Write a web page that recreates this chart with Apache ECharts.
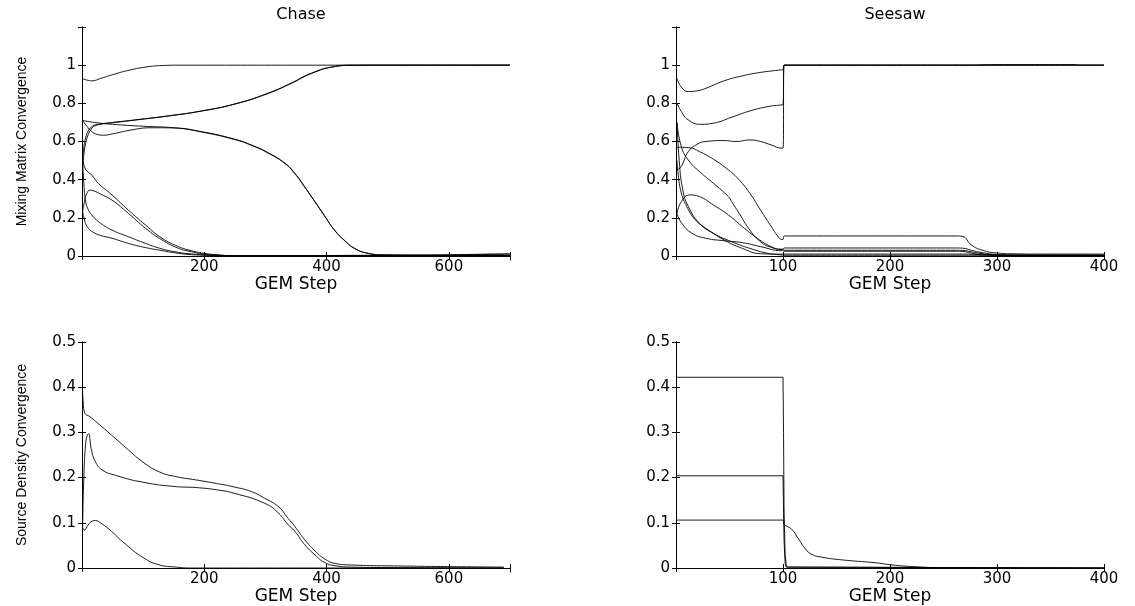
<!DOCTYPE html>
<html>
<head>
<meta charset="utf-8">
<script src="https://cdn.jsdelivr.net/npm/echarts@6/dist/echarts.min.js"></script>
<style>
html,body{margin:0;padding:0;background:#fff;}
#c{width:1135px;height:606px;}
</style>
</head>
<body>
<div id="c"></div>
<script>
// ---------- titles / labels ----------
const panelTitles = ['Chase', 'Seesaw'];
const xAxisName = 'GEM Step';
const yNameTop = 'Mixing Matrix Convergence';
const yNameBottom = 'Source Density Convergence';

// ---------- Chase : mixing matrix convergence ----------
const chaseM1x = [1, 8, 16, 30, 50, 75, 104, 131, 160, 200, 400, 700];
const chaseM1y = [0.93, 0.922, 0.918, 0.93, 0.95, 0.972, 0.99, 0.998, 1, 1, 1, 1];
const chaseRiseX = [1, 3, 6, 10, 15, 20, 30, 50, 86, 140, 195, 250, 304, 342, 375, 413, 441, 500, 700];
const chaseM2y = [0.50, 0.57, 0.62, 0.655, 0.675, 0.685, 0.692, 0.70, 0.713, 0.734, 0.76, 0.797, 0.853, 0.906, 0.958, 0.993, 1.0, 1.0, 1.0];
const chaseM3y = [0.46, 0.53, 0.59, 0.635, 0.665, 0.68, 0.69, 0.698, 0.712, 0.733, 0.759, 0.796, 0.851, 0.904, 0.956, 0.992, 0.999, 1.0, 1.0];
const chaseM4x = [1, 10, 20, 50, 100, 150, 195, 250, 277, 304, 332, 348, 364, 381, 397, 413, 430, 446, 468, 495, 550, 600, 650, 700];
const chaseM4y = [0.71, 0.705, 0.70, 0.69, 0.68, 0.672, 0.652, 0.612, 0.582, 0.542, 0.486, 0.434, 0.364, 0.285, 0.21, 0.136, 0.08, 0.04, 0.014, 0.005, 0.004, 0.005, 0.008, 0.01];
const chaseM5x = [1, 8, 15, 25, 35, 50, 80, 113, 150, 195, 250, 277, 304, 332, 348, 364, 381, 397, 413, 430, 446, 468, 495, 550, 600, 650, 700];
const chaseM5y = [0.71, 0.68, 0.655, 0.637, 0.633, 0.64, 0.66, 0.672, 0.671, 0.650, 0.610, 0.580, 0.540, 0.484, 0.432, 0.362, 0.283, 0.208, 0.135, 0.079, 0.039, 0.014, 0.006, 0.005, 0.006, 0.009, 0.011];
const chaseLax = [1, 5, 10, 16, 27, 49, 76, 104, 131, 158, 175, 200, 225, 250, 300, 500, 700];
const chaseLay = [0.51, 0.46, 0.44, 0.424, 0.38, 0.32, 0.24, 0.162, 0.093, 0.049, 0.031, 0.014, 0.005, 0.002, 0.002, 0.003, 0.003];
const chaseLbx = [1, 5, 9, 13, 20, 30, 49, 76, 104, 131, 158, 175, 200, 225, 250, 300, 500, 700];
const chaseLby = [0.232, 0.30, 0.335, 0.345, 0.34, 0.325, 0.293, 0.223, 0.145, 0.084, 0.04, 0.025, 0.01, 0.004, 0.002, 0.002, 0.003, 0.003];
const chaseLcx = [1, 3, 6, 10, 16, 27, 49, 76, 104, 131, 158, 175, 200, 225, 250, 500, 700];
const chaseLcy = [0.50, 0.38, 0.284, 0.245, 0.215, 0.18, 0.136, 0.101, 0.066, 0.037, 0.019, 0.012, 0.006, 0.003, 0.002, 0.003, 0.003];
const chaseLdx = [1, 4, 7, 12, 17, 30, 49, 76, 104, 131, 158, 175, 200, 225, 250, 500, 700];
const chaseLdy = [0.232, 0.19, 0.162, 0.14, 0.127, 0.108, 0.093, 0.066, 0.044, 0.028, 0.014, 0.008, 0.004, 0.002, 0.001, 0.002, 0.002];

// ---------- Chase : source density convergence ----------
const chaseS1x = [1, 2, 3.5, 6, 11.6, 33, 55, 77, 99, 126, 154, 186, 220, 250, 277, 299, 321, 337, 348, 364, 381, 397, 414, 441, 523, 605, 690];
const chaseS1y = [0.39, 0.365, 0.348, 0.34, 0.336, 0.312, 0.286, 0.26, 0.235, 0.213, 0.202, 0.195, 0.187, 0.179, 0.169, 0.154, 0.136, 0.11, 0.092, 0.063, 0.038, 0.02, 0.01, 0.0066, 0.0044, 0.003, 0.002];
const chaseS2x = [1, 3, 6, 9, 11, 13, 15, 22, 33, 55, 99, 154, 186, 220, 250, 299, 321, 337, 348, 364, 381, 397, 414, 441, 500, 690];
const chaseS2y = [0.09, 0.2, 0.275, 0.295, 0.297, 0.285, 0.264, 0.235, 0.217, 0.205, 0.19, 0.18, 0.178, 0.173, 0.165, 0.143, 0.122, 0.096, 0.0815, 0.052, 0.029, 0.012, 0.005, 0.002, 0.001, 0.0];
const chaseS3x = [1, 4, 10, 17, 22, 30, 44, 71, 99, 126, 154, 180, 300, 690];
const chaseS3y = [0.0895, 0.084, 0.095, 0.104, 0.105, 0.1, 0.086, 0.053, 0.024, 0.007, 0.002, 0.0, 0.0, 0.0];

// ---------- Seesaw : mixing matrix convergence ----------
const seeW1x = [1, 5, 11.5, 20, 28, 45, 62, 79, 99, 100, 101, 110, 200, 270, 400];
const seeW1y = [0.93, 0.885, 0.862, 0.866, 0.879, 0.918, 0.944, 0.962, 0.976, 0.977, 1.0, 1.0, 1.0, 1.0, 1.0];
const seeW2x = [1, 5, 11.5, 23, 35, 52, 69, 86, 99, 100, 101, 110, 200, 270, 400];
const seeW2y = [0.80, 0.757, 0.713, 0.69, 0.696, 0.727, 0.76, 0.783, 0.792, 0.793, 1.0, 1.0, 1.0, 1.0, 1.0];
const seeW3x = [1, 5, 11.5, 20, 28, 45, 56, 69, 79, 89, 99, 100, 101, 110, 200, 270, 300, 370, 380, 400];
const seeW3y = [0.45, 0.47, 0.547, 0.586, 0.6, 0.605, 0.6, 0.608, 0.6, 0.582, 0.565, 0.565, 1.0, 1.0, 1.0, 1.0, 1.003, 1.003, 1.0, 1.0];
const seeW4x = [1, 11.5, 22, 35, 49, 59, 69, 79, 88, 96, 99, 100, 101, 110, 200, 262, 268, 276, 286, 300, 320, 340, 400];
const seeW4y = [0.57, 0.568, 0.547, 0.507, 0.451, 0.399, 0.329, 0.241, 0.163, 0.098, 0.087, 0.087, 0.105, 0.105, 0.105, 0.105, 0.102, 0.058, 0.031, 0.016, 0.011, 0.01, 0.01];
const seeW5x = [1, 5, 11.5, 22, 35, 49, 52, 59, 69, 79, 89, 99, 100, 101, 110, 200, 262, 268, 276, 286, 300, 320, 400];
const seeW5y = [0.696, 0.573, 0.503, 0.442, 0.381, 0.311, 0.285, 0.224, 0.136, 0.075, 0.045, 0.035, 0.035, 0.042, 0.042, 0.042, 0.042, 0.041, 0.03, 0.018, 0.008, 0.004, 0.003];
const seeW6x = [1, 5, 13, 22, 35, 49, 62, 76, 89, 99, 100, 101, 110, 200, 262, 268, 276, 286, 300, 320, 400];
const seeW6y = [0.224, 0.285, 0.32, 0.311, 0.267, 0.215, 0.154, 0.093, 0.049, 0.035, 0.035, 0.03, 0.03, 0.03, 0.03, 0.029, 0.022, 0.012, 0.005, 0.002, 0.001];
const seeW7x = [1, 2, 5, 10, 18, 28, 45, 62, 79, 96, 100, 200, 268, 290, 400];
const seeW7y = [0.5, 0.43, 0.33, 0.26, 0.19, 0.145, 0.084, 0.04, 0.012, 0.01, 0.01, 0.01, 0.01, 0.006, 0.005];
const seeW8x = [1, 5, 15, 28, 45, 62, 79, 99, 100, 101, 110, 200, 262, 268, 276, 290, 310, 400];
const seeW8y = [0.224, 0.175, 0.119, 0.093, 0.08, 0.07, 0.049, 0.028, 0.028, 0.025, 0.025, 0.025, 0.025, 0.024, 0.015, 0.006, 0.002, 0.001];
const seeW9x = [1, 3, 6.4, 11.5, 22, 35, 52, 69, 86, 99, 100, 200, 400];
const seeW9y = [0.70, 0.5, 0.346, 0.26, 0.171, 0.119, 0.075, 0.04, 0.014, 0.005, 0.004, 0.004, 0.004];

// ---------- Seesaw : source density convergence ----------
const seeD1x = [1, 100, 100.5, 101, 102, 103, 104, 400];
const seeD1y = [0.422, 0.422, 0.3, 0.12, 0.03, 0.008, 0.002, 0];
const seeD2x = [1, 100, 101, 102, 103, 400];
const seeD2y = [0.204, 0.204, 0.06, 0.01, 0.002, 0];
const seeD3x = [1, 50, 100, 101, 108, 114.6, 121, 127, 136, 155, 186, 205, 230, 250, 300, 400];
const seeD3y = [0.106, 0.106, 0.106, 0.097, 0.086, 0.064, 0.042, 0.03, 0.024, 0.018, 0.0116, 0.006, 0.002, 0.0005, 0, 0];

// ---------- axis ranges / ticks ----------
const chaseX = {min: 0, max: 700, step: 200};
const seeX = {min: 0, max: 400, step: 100};
const mixY = {min: 0, max: 1.2, step: 0.2, labelMax: 1};
const srcY = {min: 0, max: 0.5, step: 0.1, labelMax: 0.5};

// ---------- build ----------
const FONT = "'DejaVu Sans', 'Liberation Sans', Arial, sans-serif";
const YFONT = "'Liberation Sans', Arial, sans-serif";
const grids = [
  {left: 82, top: 27, width: 428, height: 229},
  {left: 676, top: 27, width: 428, height: 229},
  {left: 82, top: 342, width: 428, height: 229},
  {left: 676, top: 342, width: 428, height: 229}
];
const panelX = [chaseX, seeX, chaseX, seeX];
const panelY = [mixY, mixY, srcY, srcY];

const xAxes = [], yAxes = [];
const lineAx = {show: true, lineStyle: {color: '#000', width: 1}};
const tickIn = {show: true, inside: true, length: 4, lineStyle: {color: '#000', width: 1}};
panelX.forEach((ax, i) => {
  xAxes.push({
    type: 'value', gridIndex: i, min: ax.min, max: ax.max, interval: ax.step, position: 'bottom',
    axisLine: lineAx, axisTick: tickIn, splitLine: {show: false},
    axisLabel: {color: '#000', fontFamily: FONT, fontSize: 15, margin: 4,
      formatter: v => (v > 0 && Math.abs(v % ax.step) < 1e-9) ? String(v) : ''},
    name: xAxisName, nameLocation: 'middle', nameGap: 20,
    nameTextStyle: {color: '#000', fontFamily: FONT, fontSize: 17, verticalAlign: 'top'}
  });
  xAxes.push({
    type: 'value', gridIndex: i, min: ax.min, max: ax.max, interval: ax.step, position: 'top',
    axisLine: lineAx, axisTick: tickIn, axisLabel: {show: false}, splitLine: {show: false}
  });
});
panelY.forEach((ay, i) => {
  yAxes.push({
    type: 'value', gridIndex: i, min: ay.min, max: ay.max, interval: ay.step, position: 'left',
    axisLine: lineAx, axisTick: tickIn, splitLine: {show: false},
    axisLabel: {color: '#000', fontFamily: FONT, fontSize: 15, margin: 6,
      formatter: v => {
        if (v > ay.labelMax + 1e-9) return '';
        if (Math.abs(v) < 1e-9) return '0';
        if (Math.abs(v - Math.round(v)) < 1e-9) return String(Math.round(v));
        return v.toFixed(1);
      }},
    name: (i === 0 ? yNameTop : (i === 2 ? yNameBottom : '')),
    nameLocation: 'middle', nameGap: 53,
    nameTextStyle: {color: '#000', fontFamily: YFONT, fontSize: 14}
  });
  yAxes.push({
    type: 'value', gridIndex: i, min: ay.min, max: ay.max, interval: ay.step, position: 'right',
    axisLine: lineAx, axisTick: tickIn, axisLabel: {show: false}, splitLine: {show: false}
  });
});

function pairs(xs, ys) { return xs.map((x, k) => [x, ys[k]]); }
const curves = [
  [0, chaseM1x, chaseM1y, 0.5], [0, chaseRiseX, chaseM2y, 0.5], [0, chaseRiseX, chaseM3y, 0.5],
  [0, chaseM4x, chaseM4y, 0.5], [0, chaseM5x, chaseM5y, 0.5],
  [0, chaseLax, chaseLay, 0.5], [0, chaseLbx, chaseLby, 0.5], [0, chaseLcx, chaseLcy, 0.5], [0, chaseLdx, chaseLdy, 0.5],
  [1, seeW1x, seeW1y, 0.5], [1, seeW2x, seeW2y, 0.5], [1, seeW3x, seeW3y, 0.5],
  [1, seeW4x, seeW4y, 0.5], [1, seeW5x, seeW5y, 0.5], [1, seeW6x, seeW6y, 0.5],
  [1, seeW7x, seeW7y, 0.5], [1, seeW8x, seeW8y, 0.5], [1, seeW9x, seeW9y, 0.5],
  [2, chaseS1x, chaseS1y, 0.5], [2, chaseS2x, chaseS2y, 0.5], [2, chaseS3x, chaseS3y, 0.5],
  [3, seeD1x, seeD1y, false], [3, seeD2x, seeD2y, false], [3, seeD3x, seeD3y, 0.5]
];
const series = curves.map(([p, xs, ys, sm]) => ({
  type: 'line', xAxisIndex: p * 2, yAxisIndex: p * 2,
  data: pairs(xs, ys), showSymbol: false, symbol: 'none',
  smooth: sm, clip: true,
  lineStyle: {color: '#000', width: 0.9}, silent: true, animation: false
}));

const titles = panelTitles.map((t, i) => ({
  text: t, left: grids[i].left + grids[i].width / 2, top: 2, textAlign: 'center',
  textStyle: {color: '#000', fontFamily: FONT, fontSize: 16, fontWeight: 'normal'}
}));

const chart = echarts.init(document.getElementById('c'), null, {renderer: 'canvas'});
chart.setOption({
  backgroundColor: '#fff',
  animation: false,
  title: titles,
  grid: grids,
  xAxis: xAxes,
  yAxis: yAxes,
  series: series
});
</script>
</body>
</html>
